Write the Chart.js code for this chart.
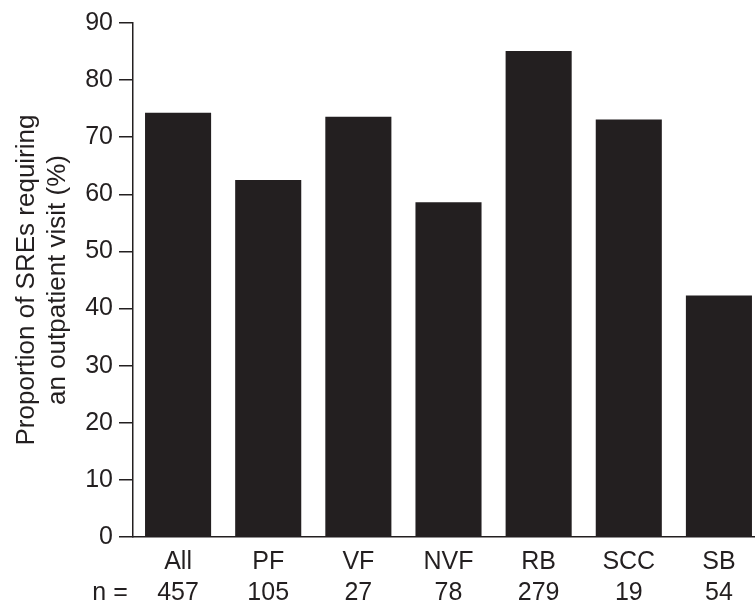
<!DOCTYPE html>
<html>
<head>
<meta charset="utf-8">
<script src="https://cdn.jsdelivr.net/npm/chart.js@4"></script>
<style>
  html, body { margin: 0; padding: 0; background: #fff; overflow: hidden; }
  #wrap { width: 766px; height: 605px; }
</style>
</head>
<body>
<div id="wrap"><canvas id="srChart" width="766" height="605"></canvas></div>
<script>
/* SREs requiring an outpatient visit */
const categories = ['All', 'PF', 'VF', 'NVF', 'RB', 'SCC', 'SB'];
const nCounts = ['457', '105', '27', '78', '279', '19', '54'];
const proportions = [74.3, 62.5, 73.6, 58.6, 85.1, 73.1, 42.3];
const yTicks = [0, 10, 20, 30, 40, 50, 60, 70, 80, 90];

const ink = '#231f20';
const fontFamily = '"Liberation Sans", Arial, Helvetica, sans-serif';

// "n =" row label, lined up with the second line of the category labels
const nLabel = {
  id: 'nLabel',
  afterDraw(chart) {
    const ctx = chart.ctx;
    const x = chart.scales.x;
    ctx.save();
    ctx.fillStyle = ink;
    ctx.font = '25px ' + fontFamily;
    ctx.textAlign = 'center';
    ctx.textBaseline = 'middle';
    ctx.fillText('n =', 110, x.top + 10 + 31 * 1.5);
    ctx.restore();
  }
};

new Chart(document.getElementById('srChart'), {
  type: 'bar',
  data: {
    labels: categories.map((c, i) => [c, nCounts[i]]),
    datasets: [{
      data: proportions,
      backgroundColor: ink,
      borderWidth: 0,
      categoryPercentage: 1,
      barPercentage: 0.733
    }]
  },
  options: {
    responsive: false,
    animation: false,
    layout: { padding: { top: 23, right: 2, left: 0, bottom: 0 } },
    plugins: { legend: { display: false }, tooltip: { enabled: false } },
    scales: {
      x: {
        grid: { display: true, drawOnChartArea: false, drawTicks: false },
        border: { display: true, color: ink, width: 1.5 },
        ticks: {
          color: ink,
          maxRotation: 0,
          padding: 10,
          font: { family: fontFamily, size: 25, lineHeight: 1.24 }
        },
        afterFit(s) { s.height = 68; }
      },
      y: {
        min: 0,
        max: 90,
        afterBuildTicks(s) { s.ticks = yTicks.map(v => ({ value: v })); },
        grid: { display: true, drawOnChartArea: false, drawTicks: true, tickLength: 14, color: ink, lineWidth: 1.5 },
        border: { display: true, color: ink, width: 1.5 },
        ticks: {
          color: ink,
          padding: 6,
          font: { family: fontFamily, size: 25 }
        },
        title: {
          display: true,
          text: ['Proportion of SREs requiring', 'an outpatient visit (%)'],
          color: ink,
          font: { family: fontFamily, size: 26, lineHeight: 1.2 },
          padding: { top: 11, bottom: 0 }
        },
        afterFit(s) { s.width = 133; }
      }
    }
  },
  plugins: [nLabel]
});
</script>
</body>
</html>
